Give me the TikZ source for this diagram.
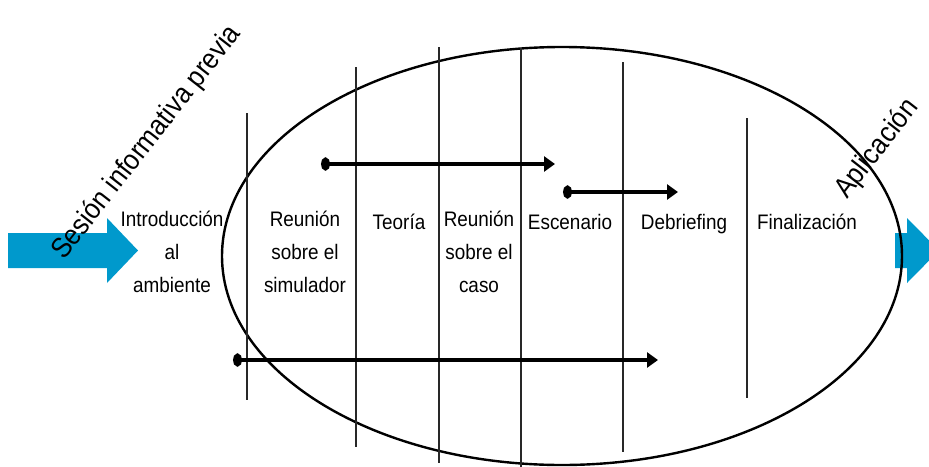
\documentclass[tikz,border=0pt]{standalone}
\usepackage{fontspec}
\setmainfont{Liberation Sans}
\newfontfamily\narrowsans[FakeStretch=0.9]{Liberation Sans}
\usetikzlibrary{arrows.meta,shapes.geometric}
\definecolor{flowblue}{RGB}{0, 153, 204}
\definecolor{divgray}{RGB}{40, 40, 40}

\tikzset{
  etapa/.style   = {align = center, inner sep = 0pt, anchor = north,
                    font = \narrowsans\fontsize{21}{33}\selectfont,
                    execute at begin node = \rule{0pt}{18pt}},
  girado/.style  = {rotate = 52, anchor = base west, inner sep = 0pt,
                    font = \narrowsans\fontsize{28.5}{30}\selectfont},
  divisor/.style = {draw = divgray, line width = 1.6pt},
  tramo/.style   = {line width = 3.5pt,
                    {Ellipse[length=9pt,width=13pt]}-{Triangle[length=11pt,width=15pt]}},
  flujo/.style   = {fill = flowblue}
}

\begin{document}
\begin{tikzpicture}[x=1pt, y=-1pt]
  \useasboundingbox (0,0) rectangle (929,466);
  \clip (0,0) rectangle (929,466);

  % blue arrows in and out
  \fill[flujo] (8,233) -- (107,233) -- (107,218) -- (138,250.5) -- (107,283)
               -- (107,268) -- (8,268) -- cycle;
  \fill[flujo] (895,233) -- (907,233) -- (907,218) -- (939,250.5) -- (907,283)
               -- (907,268) -- (895,268) -- cycle;

  % the oval
  \node[
    draw           = black,
    line width     = 2.4pt,
    ellipse,
    inner sep      = 0pt,
    minimum width  = 680pt,
    minimum height = 418pt
  ] (ciclo) at (562,256) {};

  % dividers
  \foreach \x/\ya/\yb in {247/113/400, 356/67/447, 439/47/463,
                          521/48/470, 623/62/452, 747/118/398}
    \draw[divisor] (\x,\ya) -- (\x,\yb);

  % stages
  \node[etapa] (intro)   at (172,211) {Introducción\\al\\ambiente};
  \node[etapa] (simul)   at (305,211) {Reunión\\sobre el\\simulador};
  \node[etapa] (teoria)  at (399,211) {Teoría};
  \node[etapa] (caso)    at (479,211) {Reunión\\sobre el\\caso};
  \node[etapa] (escena)  at (570,211) {Escenario};
  \node[etapa] (debrief) at (684,211) {Debriefing};
  \node[etapa] (final)   at (807,211) {Finalización};

  % slanted labels
  \node[girado] (previa) at (64,261) {Sesión informativa previa};
  \node[girado] (aplic)  at (847,200) {Aplicación};

  % timelines
  \coordinate (t1a) at (321,164);  \coordinate (t1b) at (555,164);
  \coordinate (t2a) at (563,192);  \coordinate (t2b) at (678,192);
  \coordinate (t3a) at (233,360);  \coordinate (t3b) at (658,360);
  \draw[tramo] (t1a) -- (t1b);
  \draw[tramo] (t2a) -- (t2b);
  \draw[tramo] (t3a) -- (t3b);
\end{tikzpicture}
\end{document}
